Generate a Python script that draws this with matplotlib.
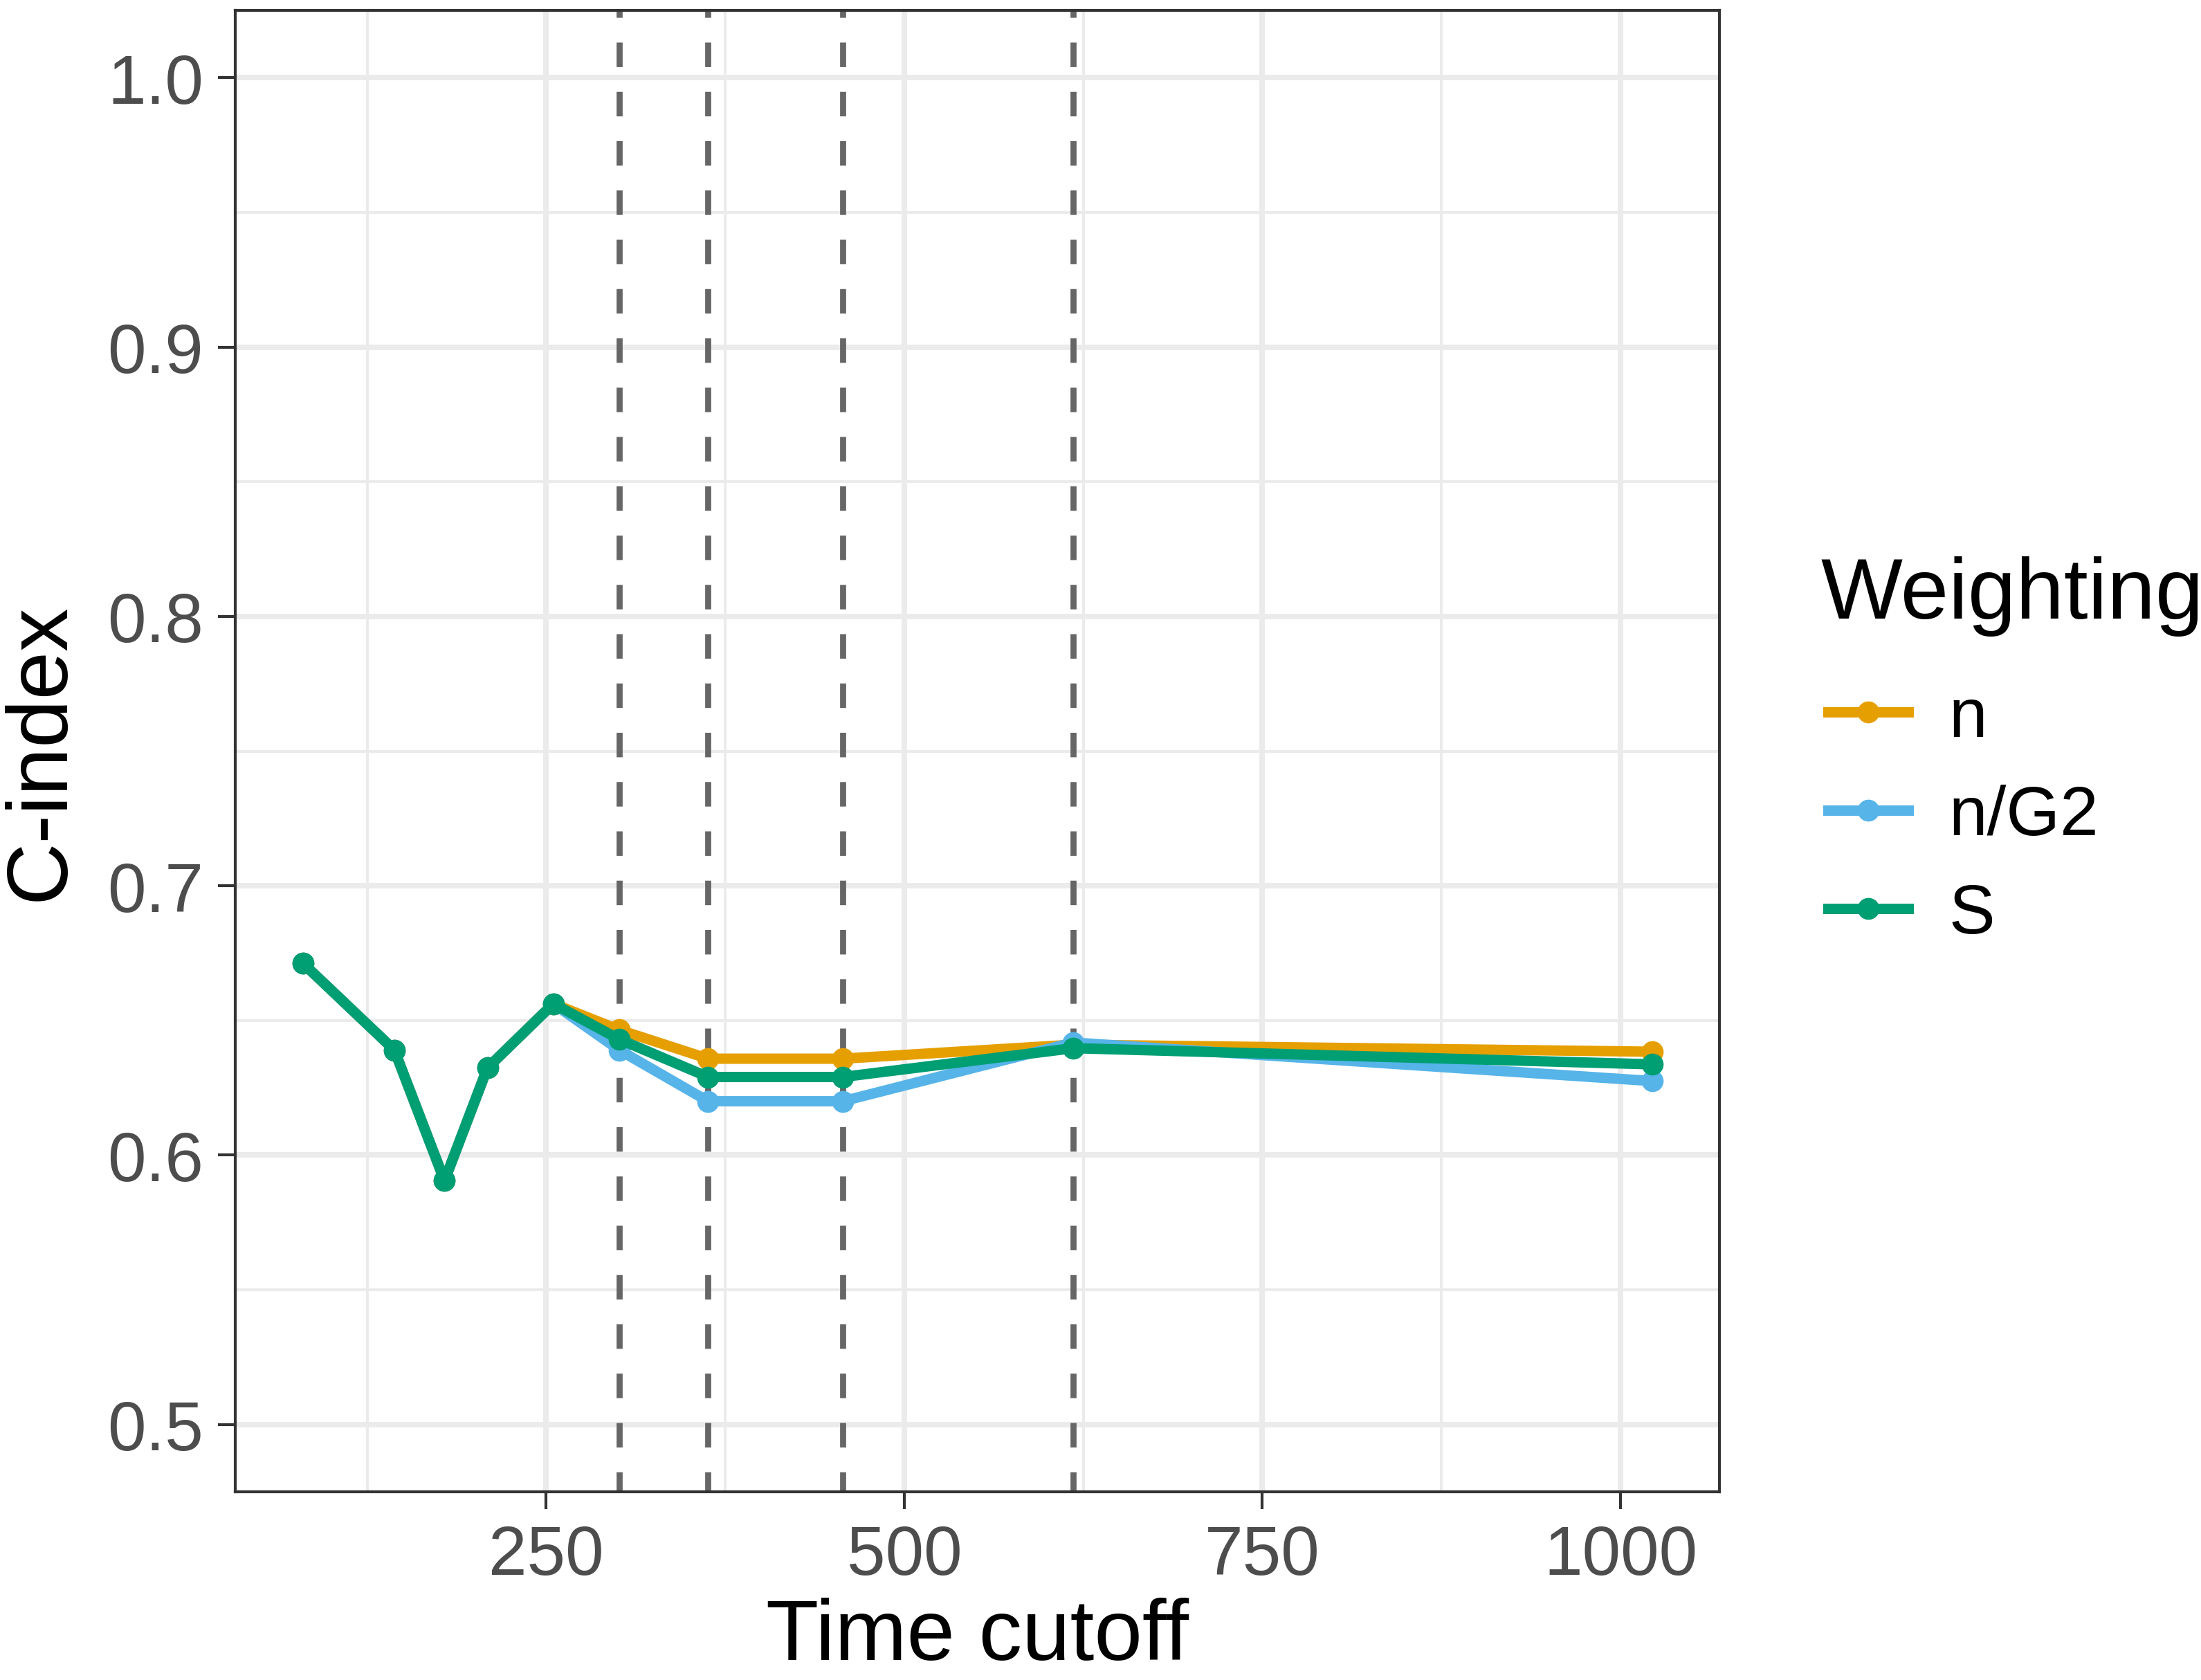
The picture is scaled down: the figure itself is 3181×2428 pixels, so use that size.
import matplotlib
matplotlib.use("Agg")
import matplotlib.pyplot as plt
import numpy as np

plt.rcParams['font.family'] = ['Liberation Sans', 'DejaVu Sans']
plt.rcParams['lines.scale_dashes'] = False

# данные
time_cutoff = [80, 144, 179, 209, 255, 301, 363, 457, 618, 1022]
cidx_n = [0.6713, 0.639, 0.5905, 0.6324, 0.6562, 0.6465, 0.6358, 0.6358, 0.641, 0.6384]
cidx_nG2 = [0.6713, 0.639, 0.5905, 0.6324, 0.6562, 0.639, 0.620, 0.620, 0.6418, 0.6275]
cidx_S = [0.6713, 0.639, 0.5905, 0.6324, 0.6562, 0.643, 0.629, 0.629, 0.6397, 0.6337]
cutoff_lines = [301, 363, 457, 618]

series = [
    ('n', cidx_n, '#E69F00'),
    ('n/G2', cidx_nG2, '#56B4E9'),
    ('S', cidx_S, '#009E73'),
]

W, H = 3181, 2429
dpi = 300
fig = plt.figure(figsize=(W / dpi, H / dpi), dpi=dpi)
ax = fig.add_axes([340 / W, 1 - 2157 / H, (2485 - 340) / W, (2157 - 16) / H])

# пределы с расширением 5% как в ggplot
x0, x1 = min(time_cutoff), max(time_cutoff)
dx = 0.05 * (x1 - x0)
ax.set_xlim(x0 - dx, x1 + dx)
ax.set_ylim(0.5 - 0.025, 1.0 + 0.025)

ax.set_xticks([250, 500, 750, 1000])
ax.set_xticks([125, 375, 625, 875], minor=True)
ax.set_yticks([0.5, 0.6, 0.7, 0.8, 0.9, 1.0])
ax.set_yticks([0.55, 0.65, 0.75, 0.85, 0.95], minor=True)
ax.set_yticklabels(['0.5', '0.6', '0.7', '0.8', '0.9', '1.0'])

# сетка
ax.grid(which='major', color='#EBEBEB', linewidth=1.9, zorder=0)
ax.grid(which='minor', color='#EBEBEB', linewidth=0.95, zorder=0)
ax.set_axisbelow(True)

for sp in ax.spines.values():
    sp.set_color('#333333')
    sp.set_linewidth(1.0)

ax.tick_params(which='major', length=6, width=1.0, color='#333333',
               labelsize=24, labelcolor='#4D4D4D', pad=5)
ax.tick_params(which='minor', length=0)

# вертикальные пунктирные линии
for xv in cutoff_lines:
    ax.axvline(xv, color='#666666', linewidth=2.1,
               linestyle=(1.6, (8.5, 8.6)), zorder=2)

for label, vals, col in series:
    ax.plot(time_cutoff, vals, color=col, linewidth=3.6, marker='o',
            markersize=7.6, markeredgewidth=0, label=label, zorder=3)

ax.set_xlabel('Time cutoff', fontsize=30, color='black', labelpad=3)
ax.set_ylabel('C-index', fontsize=30, color='black', labelpad=9)

# легенда: заголовок отдельно, элементы через legend
fig.text(2631 / W, 1 - 862 / H, 'Weighting', fontsize=30, ha='left', va='center')
leg = ax.legend(loc='upper left', bbox_to_anchor=(2642 / W, 1 - 992 / H),
                bbox_transform=fig.transFigure, frameon=False,
                fontsize=24, handlelength=1.16,
                handletextpad=0.58, labelspacing=0.48, borderpad=0,
                borderaxespad=0)

fig.savefig('out.png', dpi=dpi)
